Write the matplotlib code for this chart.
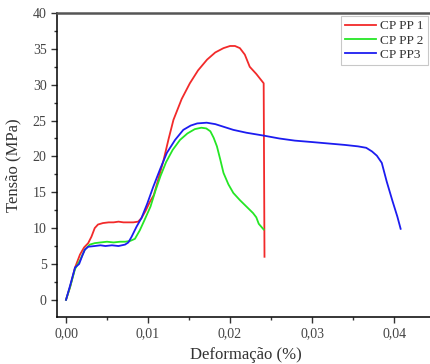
import matplotlib
matplotlib.use("Agg")
import matplotlib.pyplot as plt
from matplotlib.ticker import MultipleLocator

plt.rcParams['font.family'] = ['Liberation Serif', 'DejaVu Serif']

# CP PP 1
x_pp1 = [0, 0.0005, 0.0011, 0.0017, 0.0022, 0.0027, 0.0031, 0.0035, 0.0039, 0.0045,
         0.0052, 0.0058, 0.0064, 0.0070, 0.0076, 0.0082, 0.0088, 0.0092, 0.0097, 0.0102,
         0.0107, 0.0113, 0.0119, 0.0125, 0.0131, 0.0141, 0.0151, 0.0161, 0.0172, 0.0182,
         0.0192, 0.0200, 0.0206, 0.0212, 0.0218, 0.0224, 0.0232, 0.0241, 0.0242]
y_pp1 = [0, 1.8, 4.5, 6.3, 7.3, 7.9, 8.8, 10.0, 10.5, 10.7,
         10.8, 10.8, 10.9, 10.8, 10.8, 10.8, 10.9, 11.4, 12.4, 13.6,
         14.6, 17.0, 19.5, 22.4, 25.1, 28.0, 30.2, 32.0, 33.5, 34.5,
         35.1, 35.4, 35.4, 35.1, 34.2, 32.5, 31.5, 30.2, 6.0]

# CP PP 2
x_pp2 = [0, 0.0005, 0.0011, 0.0017, 0.0023, 0.0029, 0.0035, 0.0042, 0.0050, 0.0058,
         0.0066, 0.0072, 0.0078, 0.0084, 0.0090, 0.0096, 0.0103, 0.0109, 0.0115, 0.0122,
         0.0130, 0.0139, 0.0148, 0.0157, 0.0165, 0.0171, 0.0176, 0.0180, 0.0184, 0.0188,
         0.0192, 0.0198, 0.0204, 0.0212, 0.0220, 0.0228, 0.0232, 0.0235, 0.0241]
y_pp2 = [0, 1.8, 4.3, 5.5, 7.0, 7.7, 7.9, 8.0, 8.1, 8.0,
         8.1, 8.1, 8.2, 8.5, 9.7, 11.2, 13.0, 15.2, 17.2, 19.2,
         20.9, 22.3, 23.2, 23.8, 24.0, 23.9, 23.5, 22.6, 21.4, 19.6,
         17.7, 16.1, 14.9, 13.9, 13.0, 12.1, 11.5, 10.6, 9.8]

# CP PP3
x_pp3 = [0, 0.0005, 0.0011, 0.0016, 0.0020, 0.0023, 0.0027, 0.0035, 0.0042, 0.0048,
         0.0056, 0.0064, 0.0072, 0.0076, 0.0080, 0.0086, 0.0092, 0.0099, 0.01065, 0.0115,
         0.0123, 0.0133, 0.0143, 0.0152, 0.0160, 0.01715, 0.0182, 0.0193, 0.0204, 0.0220,
         0.0241, 0.0260, 0.0279, 0.0300, 0.0320, 0.0340, 0.0356, 0.0366, 0.0373, 0.0379,
         0.0385, 0.0391, 0.0398, 0.0404, 0.0408]
y_pp3 = [0, 2.0, 4.5, 5.0, 6.2, 7.0, 7.4, 7.5, 7.6, 7.5,
         7.6, 7.5, 7.7, 8.0, 8.8, 10.2, 11.4, 13.4, 15.8, 18.3,
         20.5, 22.3, 23.7, 24.3, 24.6, 24.7, 24.5, 24.1, 23.7, 23.3,
         22.9, 22.5, 22.2, 22.0, 21.8, 21.6, 21.4, 21.2, 20.7, 20.1,
         19.1, 16.5, 13.8, 11.6, 9.9]

x_ticks = [0.00, 0.01, 0.02, 0.03, 0.04]
x_labels = ["0,00", "0,01", "0,02", "0,03", "0,04"]
y_ticks = [0, 5, 10, 15, 20, 25, 30, 35, 40]

fig = plt.figure(figsize=(4.3, 3.64), dpi=100)
ax = fig.add_axes([57 / 430, 1 - 317 / 364, 383 / 430, 304 / 364])

ax.plot(x_pp1, y_pp1, color='#f22a2a', lw=1.3, label='CP PP 1')
ax.plot(x_pp2, y_pp2, color='#25e625', lw=1.3, label='CP PP 2')
ax.plot(x_pp3, y_pp3, color='#1c1cf0', lw=1.3, label='CP PP3')

ax.set_xlim(-0.0011, 0.0456)
ax.set_ylim(-2.4, 40)
ax.set_xticks(x_ticks)
ax.set_xticklabels(x_labels)
ax.set_yticks(y_ticks)
ax.xaxis.set_minor_locator(MultipleLocator(0.005))
ax.yaxis.set_minor_locator(MultipleLocator(2.5))
ax.tick_params(which='major', direction='out', length=4, width=1, labelsize=10, colors='#333333')
ax.tick_params(which='minor', direction='out', length=2.5, width=1, colors='#333333')
ax.tick_params(labelcolor='#444444')

ax.spines['left'].set_linewidth(1.1)
ax.spines['bottom'].set_linewidth(1.1)
ax.spines['top'].set_color('#555555')
ax.spines['top'].set_linewidth(1.8)

ax.set_xlabel('Deformação (%)', fontsize=12, color='#333333')
ax.xaxis.set_label_coords((246 - 57) / 383, (317 - 347) / 304)
ax.set_ylabel('Tensão (MPa)', fontsize=12, color='#333333', labelpad=8)

leg = ax.legend(loc='upper right', bbox_to_anchor=(1.0 - 9 / 383, 1.0), borderaxespad=0.25,
                fontsize=9.5, frameon=True, fancybox=False, handlelength=2.4,
                handletextpad=0.3, labelspacing=0.15, borderpad=0.3)
leg.get_frame().set_edgecolor('#bbbbbb')
leg.get_frame().set_linewidth(0.8)
for t in leg.get_texts():
    t.set_color('#333333')

fig.savefig('out.png', dpi=100)
